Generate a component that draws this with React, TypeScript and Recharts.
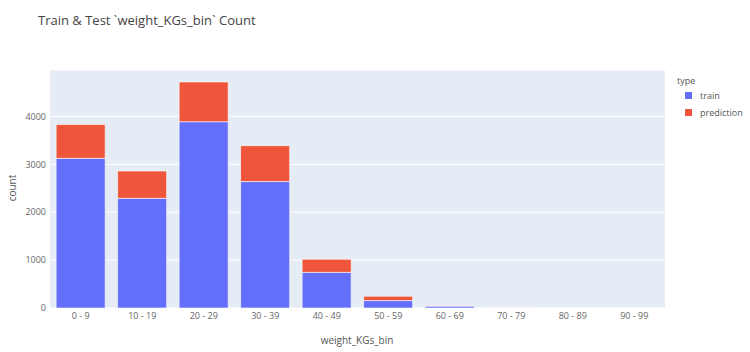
import { BarChart, Bar, XAxis, YAxis, CartesianGrid } from "recharts";

// bins and stacked counts
const BINS = ["0 - 9", "10 - 19", "20 - 29", "30 - 39", "40 - 49", "50 - 59", "60 - 69", "70 - 79", "80 - 89", "90 - 99"];
const TRAIN = [3125, 2290, 3890, 2640, 745, 155, 40, 6, 4, 3];
const PREDICTION = [705, 570, 830, 750, 272, 90, 8, 2, 1, 1];
const Y_TICKS = [0, 1000, 2000, 3000, 4000];

const TRAIN_COLOR = "#636EFA";
const PRED_COLOR = "#EF553B";
const FONT = '"Open Sans", "Noto Sans", sans-serif';

export default function App() {
  const data = BINS.map((bin, i) => ({ bin, train: TRAIN[i], prediction: PREDICTION[i] }));

  return (
    <div style={{ position: "absolute", left: 0, top: 0, width: 750, height: 352, background: "#fff", fontFamily: FONT }}>
      <div style={{ position: "absolute", left: 38, top: 11, fontSize: 13, color: "#444" }}>
        Train &amp; Test `weight_KGs_bin` Count
      </div>

      <BarChart
        width={750}
        height={352}
        data={data}
        margin={{ top: 70, right: 85, bottom: 14, left: 10 }}
        barCategoryGap="10%"
      >
        <CartesianGrid vertical={false} stroke="#fff" fill="#E5ECF6" />
        <XAxis
          dataKey="bin"
          axisLine={false}
          tickLine={false}
          tickSize={0}
          tickMargin={5}
          height={30}
          interval={0}
          tick={{ fontSize: 9, fill: "#666", fontFamily: FONT }}
        />
        <YAxis
          width={40}
          domain={[0, 4970]}
          ticks={Y_TICKS}
          axisLine={false}
          tickLine={false}
          tickSize={0}
          tickMargin={4}
          tick={{ fontSize: 9, fill: "#666", fontFamily: FONT }}
        />
        <Bar dataKey="train" stackId="a" fill={TRAIN_COLOR} stroke="#fff" strokeWidth={0.6} isAnimationActive={false} />
        <Bar dataKey="prediction" stackId="a" fill={PRED_COLOR} stroke="#fff" strokeWidth={0.6} isAnimationActive={false} />
      </BarChart>

      <div
        style={{
          position: "absolute",
          left: 12,
          top: 188,
          transform: "translate(-50%, -50%) rotate(-90deg)",
          fontSize: 10,
          color: "#555",
        }}
      >
        count
      </div>
      <div style={{ position: "absolute", left: 357, top: 340, transform: "translate(-50%, -50%)", fontSize: 10, color: "#555" }}>
        weight_KGs_bin
      </div>

      {/* legend */}
      <div style={{ position: "absolute", left: 677, top: 74, fontSize: 9, color: "#555" }}>type</div>
      {[
        { label: "train", color: TRAIN_COLOR, y: 96 },
        { label: "prediction", color: PRED_COLOR, y: 113 },
      ].map((it) => (
        <div key={it.label}>
          <div style={{ position: "absolute", left: 685, top: it.y - 4, width: 7, height: 7, background: it.color }} />
          <div style={{ position: "absolute", left: 700, top: it.y - 7, fontSize: 9, color: "#555" }}>{it.label}</div>
        </div>
      ))}
    </div>
  );
}
